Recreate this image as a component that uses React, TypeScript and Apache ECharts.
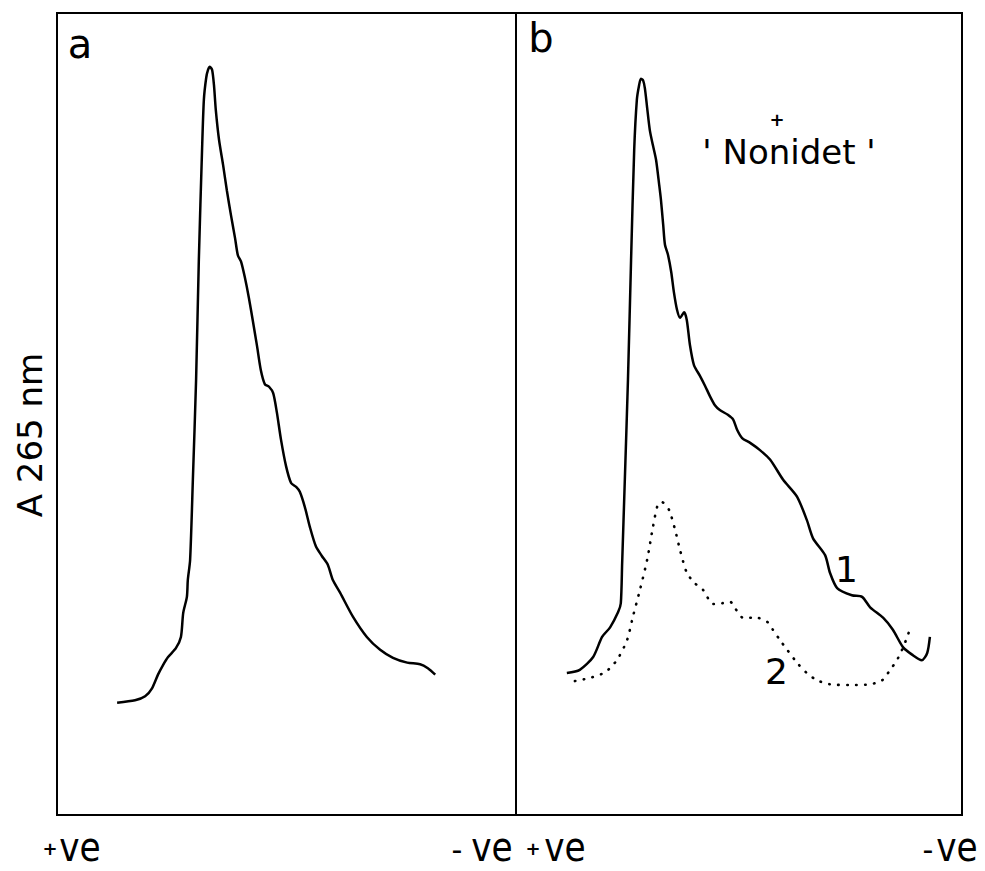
import React, { useEffect, useRef } from "react";
import * as echarts from "echarts";

// Panel a: single elution profile (x: position 0-100 across panel, y: relative A265 0-100)
const curveA: [number, number][] = [
  [13.1, 14.0], [17.0, 14.3], [19.2, 14.8], [20.7, 15.8], [22.0, 17.5], [23.1, 18.7],
  [24.2, 19.7], [25.9, 20.8], [27.0, 22.2], [27.5, 25.2], [28.3, 27.2], [28.5, 29.3],
  [29.0, 31.8], [29.6, 41.8], [30.3, 54.2], [30.9, 69.2], [31.6, 82.9], [32.0, 89.2],
  [32.5, 91.9], [32.9, 92.9], [33.3, 93.3], [33.8, 92.9], [34.2, 91.0], [34.6, 87.9],
  [35.3, 84.2], [36.2, 81.0], [37.0, 77.9], [37.9, 74.8], [38.8, 71.9], [39.4, 69.8],
  [40.1, 69.0], [40.9, 67.1], [41.8, 64.5], [42.7, 61.5], [43.6, 58.4], [44.4, 55.5],
  [45.3, 53.7], [46.2, 53.4], [47.1, 52.6], [47.9, 50.2], [48.8, 46.8], [49.9, 43.5],
  [51.0, 41.4], [52.1, 40.9], [52.9, 40.3], [54.0, 38.4], [55.1, 35.9], [56.4, 33.5],
  [57.7, 32.3], [59.0, 31.2], [60.1, 29.3], [61.7, 27.7], [64.5, 24.7], [67.5, 22.2],
  [70.4, 20.6], [73.2, 19.6], [76.3, 19.0], [79.1, 18.8], [80.8, 18.3], [82.4, 17.5],
];

// Panel b, trace 1 (solid)
const curveB1: [number, number][] = [
  [11.4, 17.7], [14.3, 18.1], [17.3, 19.7], [19.3, 22.2], [21.1, 23.4], [22.9, 25.3],
  [23.5, 26.4], [23.8, 31.4], [24.4, 41.8], [25.1, 54.2], [25.8, 69.2], [26.5, 82.9],
  [27.1, 89.2], [27.6, 91.0], [28.0, 91.8], [28.5, 91.6], [28.9, 90.6], [29.4, 88.2],
  [30.0, 85.4], [30.7, 83.5], [31.4, 81.7], [32.1, 78.6], [32.5, 76.7], [33.0, 73.6],
  [33.4, 71.1], [34.1, 69.8], [34.8, 67.7], [35.4, 65.2], [36.1, 63.0], [36.8, 62.0],
  [37.7, 62.7], [38.3, 61.7], [39.0, 58.6], [39.9, 56.1], [41.3, 54.7], [42.4, 53.5],
  [43.5, 52.2], [44.6, 51.1], [45.7, 50.5], [47.5, 49.9], [48.7, 49.3], [49.6, 48.0],
  [50.7, 47.0], [52.5, 46.4], [54.7, 45.5], [57.0, 44.3], [59.9, 41.8], [63.0, 39.7],
  [65.2, 36.8], [66.6, 34.5], [69.3, 32.4], [70.4, 30.2], [72.0, 28.3], [75.3, 27.4],
  [77.6, 27.2], [79.4, 25.9], [82.3, 24.6], [84.5, 23.1], [86.8, 20.9], [88.8, 20.0],
  [91.0, 19.3], [92.2, 20.2], [92.8, 22.2],
];

// Panel b, trace 2 (dotted)
const curveB2: [number, number][] = [
  [13.2, 16.7], [16.6, 17.1], [20.0, 17.8], [22.6, 19.3], [24.9, 21.8], [26.2, 24.7],
  [27.8, 28.1], [29.4, 31.8], [30.7, 35.9], [31.8, 38.7], [32.7, 39.0], [33.6, 38.7],
  [34.5, 37.8], [35.7, 35.5], [36.8, 33.0], [38.3, 30.2], [40.1, 28.9], [41.9, 28.1],
  [44.2, 26.3], [46.2, 26.4], [48.0, 26.6], [49.1, 25.8], [50.9, 24.6], [54.0, 24.6],
  [56.3, 24.1], [57.6, 23.1], [59.2, 21.8], [60.8, 20.6], [63.0, 19.0], [65.2, 17.7],
  [67.5, 16.8], [70.4, 16.3], [74.9, 16.2], [79.4, 16.3], [82.1, 16.8], [83.9, 18.1],
  [85.4, 19.3], [86.8, 20.9], [87.7, 22.2], [88.6, 23.6],
];

const traceLabels = ["1", "2"];
const traceLabelPos: [number, number][] = [[74.2, 30.5], [58.5, 17.8]];
const panelLetters = ["a", "b"];
const yAxisTitle = "A 265 nm";
const annotationText = "' Nonidet '";
const endSigns = ["+", "-"];
const endWord = "ve";

export default function App() {
  const ref = useRef<HTMLDivElement>(null);

  useEffect(() => {
    if (!ref.current) return;
    const chart = echarts.init(ref.current, null, { renderer: "svg" });
    const font = "DejaVu Sans";
    const axis = (gridIndex: number) => ({
      type: "value",
      gridIndex,
      min: 0,
      max: 100,
      show: false,
    });
    const gridBase = {
      top: 13,
      height: 802,
      show: true,
      borderColor: "#000",
      borderWidth: 2,
      backgroundColor: "transparent",
    };
    const txt = (
      text: string,
      x: number,
      y: number,
      size: number,
      extra: any = {},
      weight: string = "normal"
    ) => ({
      type: "text",
      x,
      y,
      silent: true,
      ...extra,
      style: {
        text,
        fontSize: size,
        fontFamily: font,
        fontWeight: weight,
        fill: "#000",
        align: "center",
        verticalAlign: "middle",
      },
    });
    const narrow = { scaleX: 0.86 };

    chart.setOption({
      animation: false,
      backgroundColor: "#fff",
      grid: [
        { ...gridBase, left: 57, width: 459 },
        { ...gridBase, left: 516, width: 446 },
      ],
      xAxis: [axis(0), axis(1)],
      yAxis: [axis(0), axis(1)],
      series: [
        {
          type: "line",
          xAxisIndex: 0,
          yAxisIndex: 0,
          data: curveA,
          showSymbol: false,
          smooth: 0.25,
          lineStyle: { color: "#000", width: 2.5 },
        },
        {
          type: "line",
          xAxisIndex: 1,
          yAxisIndex: 1,
          data: curveB1,
          showSymbol: false,
          smooth: 0.25,
          lineStyle: { color: "#000", width: 2.5 },
        },
        {
          type: "line",
          xAxisIndex: 1,
          yAxisIndex: 1,
          data: curveB2,
          showSymbol: false,
          smooth: 0.25,
          lineStyle: { color: "#000", width: 2.6, type: [0.5, 8.5], cap: "round" },
        },
        {
          type: "scatter",
          xAxisIndex: 1,
          yAxisIndex: 1,
          symbolSize: 1,
          itemStyle: { color: "rgba(255,255,255,0)" },
          data: traceLabels.map((name, i) => ({ name, value: traceLabelPos[i] })),
          label: {
            show: true,
            position: [0, 0],
            align: "center",
            verticalAlign: "middle",
            formatter: "{b}",
            fontSize: 36,
            fontFamily: font,
            color: "#000",
            textBorderWidth: 0,
            opacity: 1,
          },
        },
      ],
      graphic: [
        txt(panelLetters[0], 80, 44, 40),
        txt(panelLetters[1], 541, 38, 40),
        txt(yAxisTitle, 30, 435, 34, { rotation: Math.PI / 2 }),
        txt(annotationText, 789, 152, 34),
        txt("+", 777, 119, 18, {}, "bold"),
        // bottom end labels
        txt(endSigns[0], 50, 848, 18, {}, "bold"),
        txt(endWord, 80, 847, 40, narrow),
        txt(endSigns[1], 457, 849, 30),
        txt(endWord, 492, 847, 40, narrow),
        txt(endSigns[0], 533, 848, 18, {}, "bold"),
        txt(endWord, 565, 847, 40, narrow),
        txt(endSigns[1], 928, 849, 30),
        txt(endWord, 957, 847, 40, narrow),
      ],
    });
    return () => chart.dispose();
  }, []);

  return (
    <div
      ref={ref}
      style={{ position: "absolute", left: 0, top: 0, width: 985, height: 871 }}
    />
  );
}
